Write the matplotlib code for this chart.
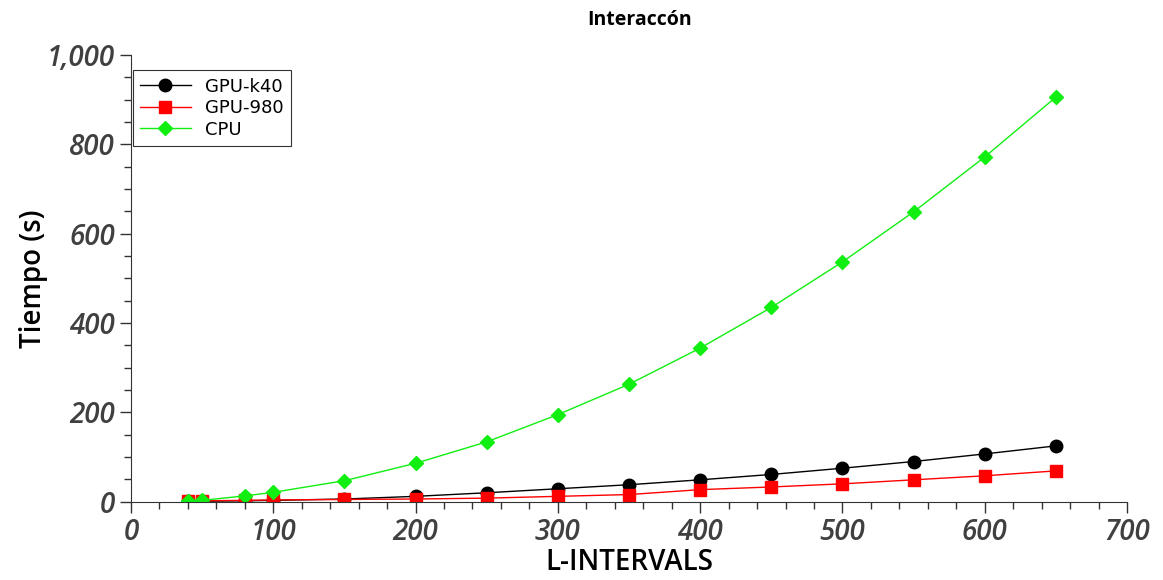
import matplotlib as mpl
mpl.use('Agg')
import matplotlib.pyplot as plt
from matplotlib.ticker import MultipleLocator, FuncFormatter

intervals = [40, 50, 80, 100, 150, 200, 250, 300, 350, 400, 450, 500, 550, 600, 650]
gpu_k40 = [1, 1, 2, 3, 6, 12, 20, 29, 38, 49, 61, 75, 90, 107, 125]
gpu_980 = [2, 2, 3, 4, 5, 6, 8, 12, 16, 27, 33, 40, 49, 58, 69]
cpu = [2, 3, 13, 21, 47, 86, 134, 195, 263, 344, 435, 537, 649, 772, 906]

fs = 20
tick_color = "#404040"

fig = plt.figure(figsize = (11.63, 5.80), dpi = 100)
ax = fig.add_axes([0.1126, 0.135, 0.8565, 0.77])

ax.plot(intervals, gpu_k40, color = "black", lw = 1, marker = "o", ms = 9, label = "GPU-k40")
ax.plot(intervals, gpu_980, color = "#ff0000", lw = 1, marker = "s", ms = 9, label = "GPU-980")
ax.plot(intervals, cpu, color = "#11ee11", lw = 1, marker = "D", ms = 7, label = "CPU")

ax.set_xlim(0, 700)
ax.set_ylim(0, 1000)
for side in ["top", "right"]:
    ax.spines[side].set_visible(False)
ax.spines["left"].set_color("#333333")
ax.spines["bottom"].set_color("#333333")

ax.xaxis.set_major_locator(MultipleLocator(100))
ax.xaxis.set_minor_locator(MultipleLocator(20))
ax.yaxis.set_major_locator(MultipleLocator(200))
ax.yaxis.set_minor_locator(MultipleLocator(50))
ax.yaxis.set_major_formatter(FuncFormatter(lambda v, p: f"{int(v):,}"))

ax.tick_params(which = "major", length = 8, width = 1, color = "#333333")
ax.tick_params(which = "minor", length = 5, width = 1, color = "#333333")
for lab in ax.get_xticklabels() + ax.get_yticklabels():
    lab.set_fontsize(fs)
    lab.set_style("italic")
    lab.set_fontweight("semibold")
    lab.set_color(tick_color)
    lab.set_family("Open Sans")

ax.set_xlabel("L-INTERVALS", fontsize = fs, fontweight = "semibold", family = "Open Sans", labelpad = 1)
ax.set_ylabel("Tiempo (s)", fontsize = fs, fontweight = "semibold", family = "Open Sans", labelpad = -1)
fig.text(0.55, 0.965, "Interaccón", fontsize = 14, fontweight = "bold", family = "Open Sans",
         ha = "center", va = "center")

leg = ax.legend(loc = "upper left", bbox_to_anchor = (0.002, 0.966), borderaxespad = 0,
                fontsize = 13, fancybox = False, framealpha = 1, edgecolor = "#333333",
                handlelength = 2.8, borderpad = 0.4, labelspacing = 0.2)
leg.get_frame().set_linewidth(0.8)

fig.savefig("out.png")
plt.close()
